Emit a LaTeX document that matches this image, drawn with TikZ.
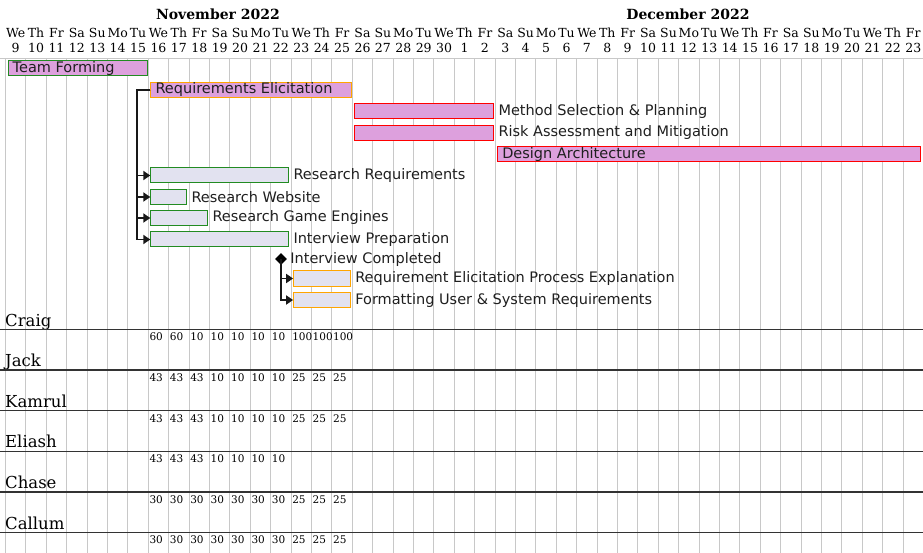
\documentclass[tikz,border=0pt]{standalone}
\usepackage{fontspec}
\setmainfont{DejaVu Serif}
\setsansfont{DejaVu Sans}
\usetikzlibrary{arrows.meta,shapes.geometric,positioning}

\definecolor{barplum}{HTML}{DDA0DD}
\definecolor{barlav}{HTML}{E2E2F0}
\definecolor{edgegreen}{HTML}{228B22}
\definecolor{edgeorange}{HTML}{FFA500}
\definecolor{edgered}{HTML}{FF0000}
\definecolor{gridgray}{HTML}{C8C8C8}
\definecolor{linkgray}{HTML}{181818}

\tikzset{
  taskbar/.style={draw, line width=1pt, minimum height=15pt, inner sep=0pt, anchor=west},
  tasktext/.style={font=\sffamily\fontsize{14.5}{16}\selectfont, inner sep=0pt, anchor=west, text=black!88},
  dayname/.style={font=\fontsize{12.5}{14}\selectfont, inner sep=0pt},
  monthname/.style={font=\bfseries\fontsize{14}{16}\selectfont, inner sep=0pt},
  who/.style={font=\fontsize{16.5}{18}\selectfont, inner sep=0pt, anchor=base west},
  load/.style={font=\fontsize{10.5}{12}\selectfont, inner sep=0pt, anchor=west},
  deplink/.style={draw=linkgray, line width=1.8pt, -{Triangle[length=7pt,width=9pt]}},
}

\begin{document}
\begin{tikzpicture}[x=1pt,y=-1pt]
\useasboundingbox (0,0) rectangle (923,553);

% calendar grid
\draw[gridgray, line width=1pt] (0,59) -- (923,59);
\foreach \i in {0,...,45}
  \draw[gridgray, line width=1pt] ({5.5+20.4*\i},59) -- ({5.5+20.4*\i},553);

\node[monthname] (nov) at (218,14) {November 2022};
\node[monthname] (dec) at (688,14) {December 2022};

\foreach \d [count=\i from 0] in {We,Th,Fr,Sa,Su,Mo,Tu,We,Th,Fr,Sa,Su,Mo,Tu,We,Th,Fr,Sa,Su,Mo,Tu,We,
    Th,Fr,Sa,Su,Mo,Tu,We,Th,Fr,Sa,Su,Mo,Tu,We,Th,Fr,Sa,Su,Mo,Tu,We,Th,Fr}
  \node[dayname] (dn\i) at ({5.5+20.4*(\i+0.5)},33) {\d};
\foreach \n [count=\i from 0] in {9,...,30}
  \node[dayname] (dd\i) at ({5.5+20.4*(\i+0.5)},48) {\n};
\foreach \n [count=\i from 22] in {1,...,23}
  \node[dayname] (dd\i) at ({5.5+20.4*(\i+0.5)},48) {\n};

% tasks
\node[taskbar, fill=barplum, draw=edgegreen, minimum width=139.5] (team) at (7.5,68.5) {};
\node[tasktext] (teamlbl) at ([xshift=5]team.west) {Team Forming};

\node[taskbar, fill=barplum, draw=edgeorange, minimum width=200.5] (reqs) at (150.3,90) {};
\node[tasktext] (reqslbl) at ([xshift=5]reqs.west) {Requirements Elicitation};

\node[taskbar, fill=barplum, draw=edgered, minimum width=139] (method) at (354.3,111.5) {};
\node[tasktext] (methodlbl) at ([xshift=4]method.east) {Method Selection \& Planning};

\node[taskbar, fill=barplum, draw=edgered, minimum width=139] (risk) at (354.3,133) {};
\node[tasktext] (risklbl) at ([xshift=4]risk.east) {Risk Assessment and Mitigation};

\node[taskbar, fill=barplum, draw=edgered, minimum width=423] (design) at (497.1,154.5) {};
\node[tasktext] (designlbl) at ([xshift=5]design.west) {Design Architecture};

\node[taskbar, fill=barlav, draw=edgegreen, minimum width=138] (resreq) at (150.3,175.5) {};
\node[tasktext] (resreqlbl) at ([xshift=4]resreq.east) {Research Requirements};

\node[taskbar, fill=barlav, draw=edgegreen, minimum width=36] (website) at (150.3,197) {};
\node[tasktext] (websitelbl) at ([xshift=4]website.east) {Research Website};

\node[taskbar, fill=barlav, draw=edgegreen, minimum width=57] (engines) at (150.3,218) {};
\node[tasktext] (engineslbl) at ([xshift=4]engines.east) {Research Game Engines};

\node[taskbar, fill=barlav, draw=edgegreen, minimum width=138] (interview) at (150.3,239.5) {};
\node[tasktext] (interviewlbl) at ([xshift=4]interview.east) {Interview Preparation};

\node[diamond, fill=black, inner sep=0pt, minimum size=12] (intdone) at (281,259) {};
\node[tasktext] (intdonelbl) at ([xshift=3]intdone.east) {Interview Completed};

\node[taskbar, fill=barlav, draw=edgeorange, minimum width=57] (process) at (293.1,278.5) {};
\node[tasktext] (processlbl) at ([xshift=4]process.east) {Requirement Elicitation Process Explanation};

\node[taskbar, fill=barlav, draw=edgeorange, minimum width=57] (formatting) at (293.1,300) {};
\node[tasktext] (formattinglbl) at ([xshift=4]formatting.east) {Formatting User \& System Requirements};

% dependencies
\foreach \t in {resreq,website,engines,interview}
  \draw[deplink] (reqs.west) -- ++(-13,0) |- (\t.west);
\foreach \t in {process,formatting}
  \draw[deplink] (intdone.center) |- (\t.west);

% resources
\foreach \r/\y in {Craig/0,Jack/1,Kamrul/2,Eliash/3,Chase/4,Callum/5}{
  \node[who] (\r) at (5,{326+40.6*\y}) {\r};
  \draw[black!80, line width=1.3pt] (0,{329.5+40.6*\y}) -- (923,{329.5+40.6*\y});
}
\foreach \v [count=\i from 7] in {60,60,10,10,10,10,10,100,100,100}
  \node[load] (craig\i) at ({5.5+20.4*\i+1},337) {\v};
\foreach \v [count=\i from 7] in {43,43,43,10,10,10,10,25,25,25}
  \node[load] (jack\i) at ({5.5+20.4*\i+1},377.6) {\v};
\foreach \v [count=\i from 7] in {43,43,43,10,10,10,10,25,25,25}
  \node[load] (kamrul\i) at ({5.5+20.4*\i+1},418.2) {\v};
\foreach \v [count=\i from 7] in {43,43,43,10,10,10,10}
  \node[load] (eliash\i) at ({5.5+20.4*\i+1},458.8) {\v};
\foreach \v [count=\i from 7] in {30,30,30,30,30,30,30,25,25,25}
  \node[load] (chase\i) at ({5.5+20.4*\i+1},499.4) {\v};
\foreach \v [count=\i from 7] in {30,30,30,30,30,30,30,25,25,25}
  \node[load] (callum\i) at ({5.5+20.4*\i+1},540) {\v};
\end{tikzpicture}
\end{document}
